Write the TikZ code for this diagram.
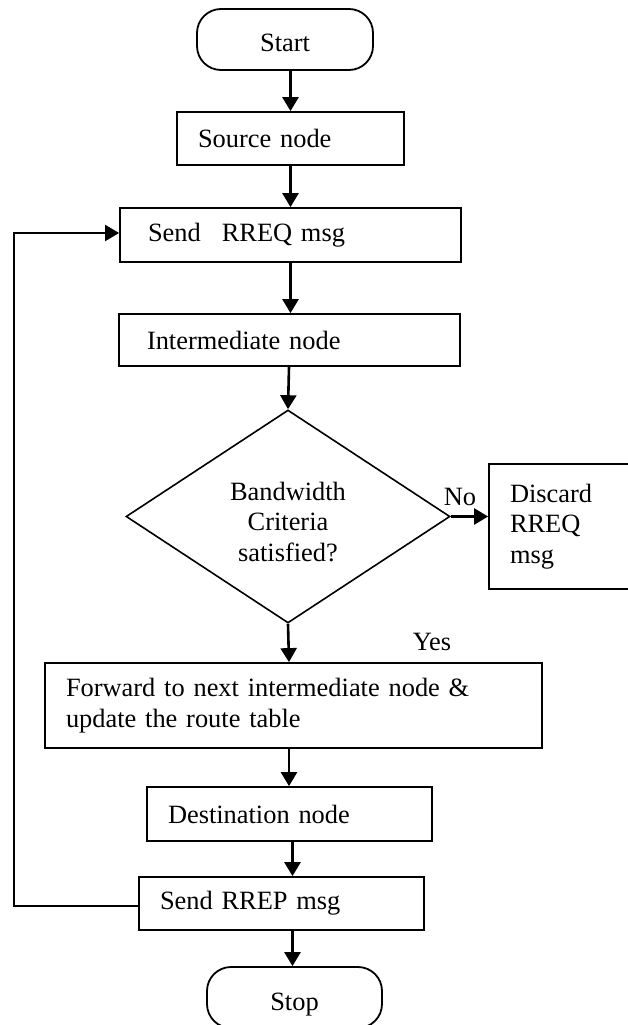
\documentclass[tikz,border=0pt]{standalone}
\usepackage{fontspec}
\setmainfont{Liberation Serif}
\usetikzlibrary{shapes.geometric,arrows.meta}

\begin{document}
\begin{tikzpicture}[
  x=1pt, y=-1pt,
  every node/.style={font=\fontsize{26.4pt}{30.5pt}\selectfont},
  stepbox/.style={draw, rectangle, line width=1.8pt, inner ysep=0pt,
                  align=left},
  terminal/.style={draw, rectangle, rounded corners=24pt, line width=1.8pt,
                   minimum width=176pt, minimum height=61pt, inner sep=0pt,
                   text height=25pt, text depth=0pt},
  decision/.style={draw, diamond, aspect=1.52, line width=1.6pt, inner sep=0pt,
                   minimum width=324pt, minimum height=213pt, align=center,
                   text height=89pt, text depth=0pt},
  flow/.style={line width=2.6pt, -{Triangle[length=14pt,width=16pt]}},
  back/.style={line width=2pt, -{Triangle[length=14pt,width=16pt]}},
  tag/.style={inner sep=0pt}
]
\fill[white] (0,0) rectangle (628,1025);
\useasboundingbox (0,0) rectangle (628,1025);

% flowchart steps
\node[terminal] (start) at (285,39.5) {Start};
\node[stepbox, minimum height=53pt, inner xsep=21pt, text width=185pt]
  (source) at (290.5,138.5) {Source node};
\node[stepbox, minimum height=54pt, inner xsep=28pt, text width=285pt]
  (rreq) at (290.5,235) {Send\hspace{21pt}RREQ msg};
\node[stepbox, minimum height=52pt, inner xsep=28pt, text width=285pt]
  (inter) at (289.5,340) {Intermediate node};
\node[decision] (crit) at (288,516.5) {Bandwidth\\Criteria\\satisfied?};
\node[stepbox, minimum height=125pt, inner xsep=21pt, text width=130pt]
  (discard) at (575,526.5) {Discard\\RREQ\\msg};
\node[stepbox, minimum height=85pt, inner xsep=21pt, text width=455pt]
  (fwd) at (293.5,705.5) {Forward to next intermediate node \&\\update the route table};
\node[stepbox, minimum height=54pt, inner xsep=21pt, text width=243pt]
  (dest) at (289.5,814) {Destination node};
\node[stepbox, minimum height=53pt, inner xsep=21pt, text width=243pt]
  (rrep) at (281.5,903.5) {Send RREP msg};
\node[terminal, minimum width=175pt] (stop) at (294.5,997.5) {Stop};

% branch labels
\node[tag] (no) at (460,497) {No};
\node[tag] (yes) at (432,642) {Yes};

% columns used by the connectors
\coordinate (colA) at (290.5,0);
\coordinate (colB) at (289,0);
\coordinate (colC) at (292.5,0);

% main flow
\draw[flow] (start.south -| colA) -- (source.north -| colA);
\draw[flow] (source.south -| colA) -- (rreq.north -| colA);
\draw[flow] (rreq.south -| colA) -- (inter.north -| colA);
\draw[flow] (inter.south -| colB) -- (crit.north);
\draw[flow] (crit.east) -- (discard.west |- crit.east);
\draw[flow] (crit.south) -- (fwd.north -| colB);
\draw[flow] (fwd.south -| colB) -- (dest.north -| colB);
\draw[flow] (dest.south -| colC) -- (rrep.north -| colC);
\draw[flow] (rrep.south -| colC) -- (stop.north -| colC);

% reply loops back to the request step
\coordinate (lbot) at (14,906);
\coordinate (ltop) at (14,233);
\draw[back] (rrep.west |- lbot) -- (lbot) -- (ltop) -- (rreq.west |- ltop);
\end{tikzpicture}
\end{document}
